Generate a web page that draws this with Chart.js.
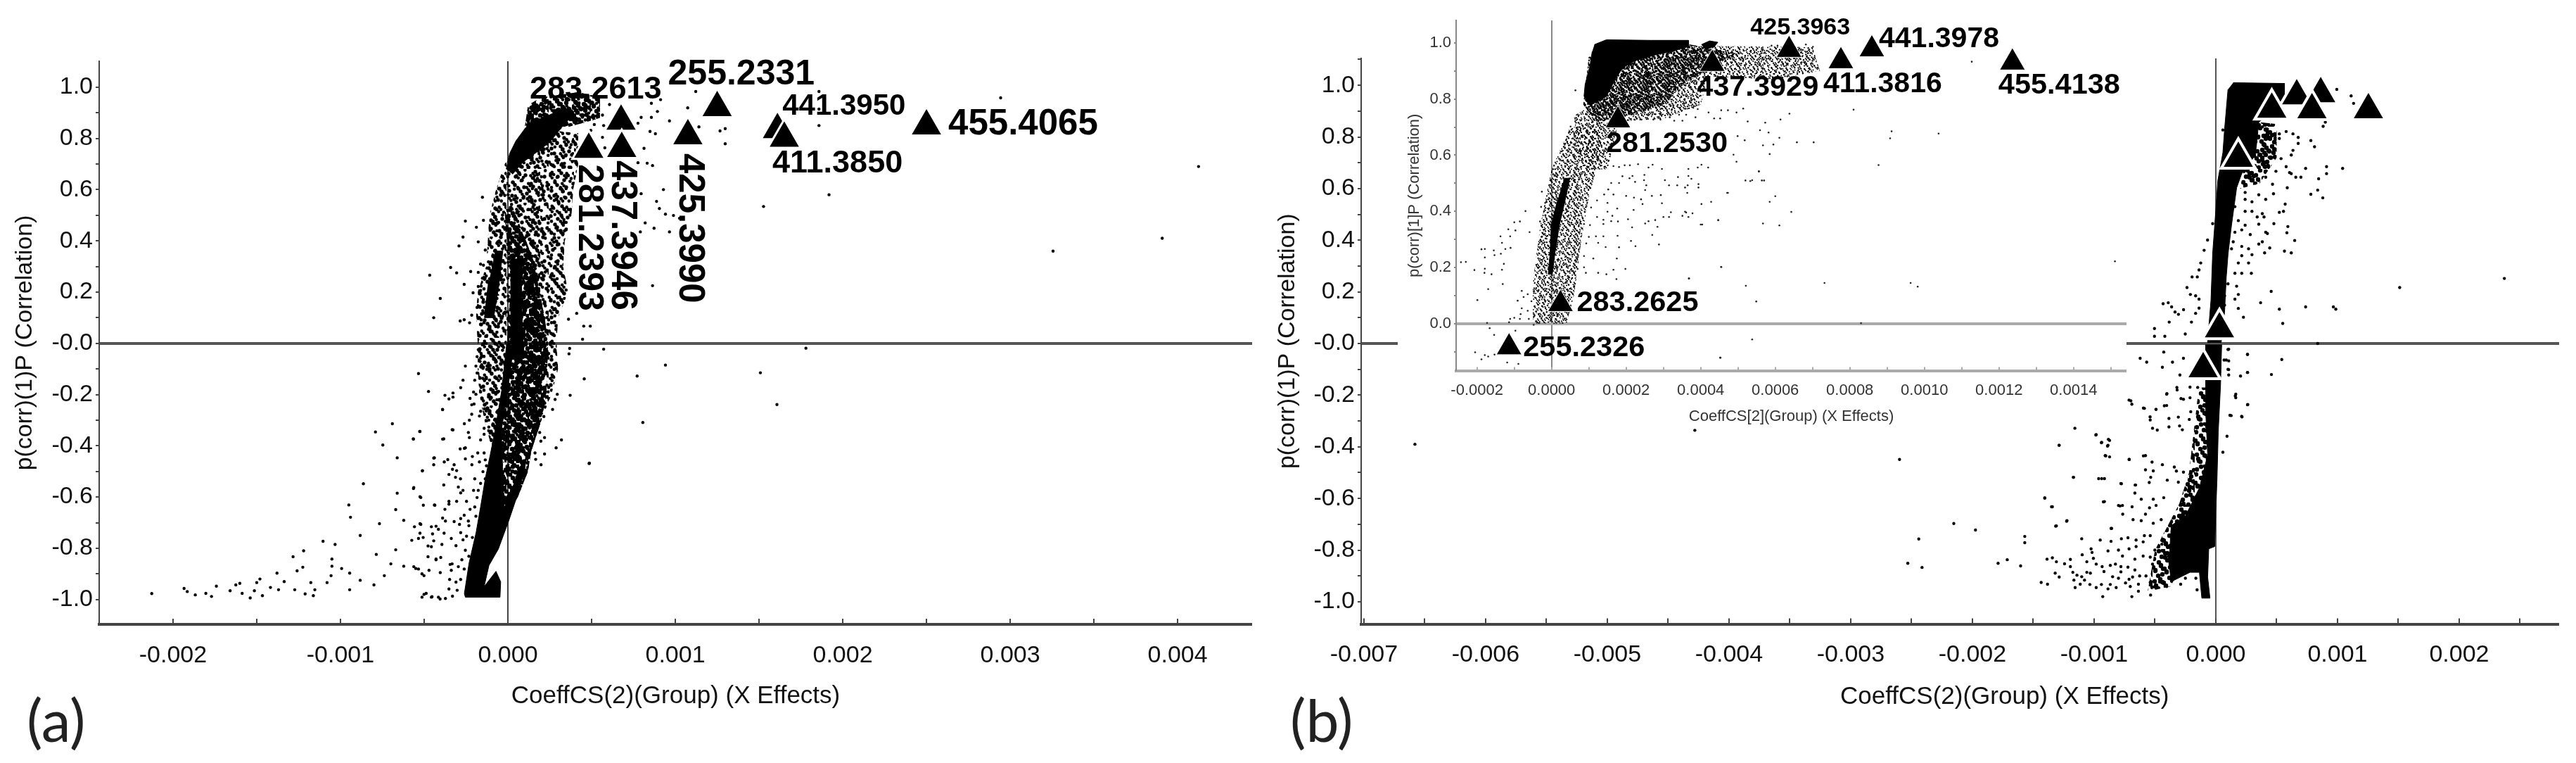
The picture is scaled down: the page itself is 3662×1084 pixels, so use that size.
<!DOCTYPE html>
<html>
<head>
<meta charset="utf-8">
<title>S-plots</title>
<script src="https://cdn.jsdelivr.net/npm/chart.js@4"></script>
<style>
  html, body { margin: 0; background: #fff; }
  body { position: relative; width: 3662px; height: 1084px; overflow: hidden; font-family: "Liberation Sans", Arial, sans-serif; }
  canvas { position: absolute; display: block; }
  .note { position: absolute; color: #111; white-space: nowrap; }
  .panel { font-family: Lato, sans-serif; font-size: 84px; line-height: 84px; color: #222; }
</style>
</head>
<body>
<canvas id="chart-a" width="1800" height="1084" style="left:0;top:0"></canvas>
<canvas id="chart-b" width="1862" height="1084" style="left:1800px;top:0"></canvas>
<canvas id="chart-inset" width="1036" height="605" style="left:1987px;top:0;background:#fff"></canvas>
<div class="note panel" style="left:38px;top:980px">(a)</div>
<div class="note panel" style="left:1834px;top:980px">(b)</div>
<div class="note" style="left:2616px;top:968px;font-size:35px;line-height:40px">CoeffCS(2)(Group) (X Effects)</div>
<script>
// All x values below are in units of 0.001 (the axis labels carry the real numbers)
const MILLI = 0.001;

// ── Panel (a) ─────────────────────────────────────────
const aXTicks = [-2,-1.5,-1,-0.5,0,0.5,1,1.5,2,2.5,3,3.5,4];
const aXTickLabels = ['-0.002','','-0.001','','0.000','','0.001','','0.002','','0.003','','0.004'];
const mainYTicks = [-1,-0.9,-0.8,-0.7,-0.6,-0.5,-0.4,-0.3,-0.2,-0.1,0,0.1,0.2,0.3,0.4,0.5,0.6,0.7,0.8,0.9,1];
const mainYTickLabels = ['-1.0','','-0.8','','-0.6','','-0.4','','-0.2','','-0.0','','0.2','','0.4','','0.6','','0.8','','1.0'];

const aPeakNames = ['255.2331','425.3990','441.3950','411.3850','455.4065','283.2613','437.3946','281.2393'];
const aPeaks = [[1.25,0.92],[1.075,0.81],[1.61,0.834],[1.651,0.8],[2.5,0.848],[0.676,0.867],[0.68,0.76],[0.483,0.757]];

// solid black parts of the cloud, outlined off the picture
const aSolidUpper = [[-0.01,0.68],[0.01,0.74],[0.048,0.79],[0.104,0.84],[0.16,0.867],[0.244,0.89],[0.342,0.92],[0.394,0.895],[0.33,0.85],[0.25,0.785],[0.17,0.745],[0.086,0.705],[0.028,0.66]];
const aSolidLeftBand = [[-0.075,0.36],[-0.03,0.36],[-0.055,0.22],[-0.085,0.1],[-0.14,0.1],[-0.12,0.22]];
const aSolidCentre = [[0.015,0.33],[0.08,0.3],[0.085,0.1],[0.095,-0.06],[0.025,-0.06],[0.015,0.1]];
const aSolidLower = [[-0.008,-0.006],[-0.036,-0.18],[-0.078,-0.345],[-0.106,-0.437],[-0.135,-0.528],[-0.163,-0.638],[-0.19,-0.739],[-0.232,-0.858],[-0.26,-0.977],[-0.254,-0.991],[-0.047,-0.991],[-0.043,-0.931],[-0.071,-0.89],[-0.142,-0.95],[-0.113,-0.867],[-0.057,-0.803],[0.005,-0.693],[0.062,-0.583],[0.09,-0.519],[0.115,-0.44],[0.06,-0.5],[0.01,-0.6],[-0.022,-0.64],[-0.03,-0.528],[-0.035,-0.418],[-0.04,-0.345],[0.0,-0.18],[0.034,-0.006]];
// speckled parts of the cloud
const aSparseFan = [[-0.02,0.7],[0.13,0.79],[0.27,0.83],[0.42,0.82],[0.42,0.7],[0.39,0.6],[0.38,0.5],[0.34,0.4],[0.33,0.3],[0.36,0.2],[0.3,0.1],[0.29,0],[0.3,-0.1],[0.26,-0.2],[0.2,-0.3],[0.15,-0.4],[0.1,-0.5],[-0.08,-0.45],[-0.14,-0.3],[-0.17,-0.2],[-0.18,-0.1],[-0.18,0],[-0.19,0.1],[-0.18,0.2],[-0.13,0.3],[-0.12,0.4],[-0.11,0.5],[-0.07,0.6]];
const aDenseFan = [[-0.02,0.52],[0.03,0.53],[0.15,0.33],[0.22,0.1],[0.24,0],[0.23,-0.2],[0.2,-0.3],[0.14,-0.42],[0.12,-0.5],[0.06,-0.6],[-0.03,-0.7],[-0.06,-0.3],[-0.01,-0.1],[0,0.1],[0.03,0.25],[0,0.35]];
const aTopCluster = [[0.1,0.84],[0.12,0.93],[0.2,0.96],[0.42,0.98],[0.55,0.96],[0.55,0.88],[0.45,0.86],[0.33,0.84],[0.2,0.8]];

const aDots = [
  [-0.152,0.57],[-0.254,0.477],[-0.146,0.48],[-0.188,0.453],[-0.268,0.415],[-0.292,0.38],[-0.177,0.396],[-0.342,0.296],[-0.306,0.275],[-0.222,0.28],[-0.177,0.277],[-0.467,0.266],[-0.261,0.23],[-0.404,0.175],[-0.208,0.197],[-0.443,0.1],[-0.285,0.087],[-0.261,0.092],[-0.184,0.14],[-0.216,0.11],[-0.229,0.08],[-0.135,0.364],[-0.163,0.309],[-0.146,0.305],[-0.152,0.254],[-0.177,0.222],
  [0.362,0.094],[0.453,0.067],[0.492,0.067],[0.446,0.016],[0.411,0.117],
  [0.565,0.891],[0.572,0.85],[0.607,0.932],[0.53,0.937],[0.495,0.831],[0.565,0.804],[0.579,0.763],[0.516,0.854],[0.509,0.891],
  [1.122,0.983],[1.074,0.919],[1.141,0.845],[1.267,0.829],[1.298,0.838],[1.298,0.779],[1.858,0.983],[1.858,0.914],[1.858,0.85],[2.943,0.958],[4.125,0.69],[1.918,0.58],[1.527,0.534],[3.908,0.41],[3.256,0.36],[1.78,-0.019],[0.941,-0.085],[1.508,-0.115],[0.772,-0.128],
  [0.965,0.868],[0.857,0.882],[0.893,0.905],[0.912,0.951],[0.857,0.937],[0.796,0.882],[0.777,0.859],[0.849,0.827],[0.881,0.818],[0.813,0.761],[0.777,0.705],[0.832,0.703],[0.864,0.694],[0.929,0.6],[0.796,0.584],[0.888,0.554],[0.905,0.526],[0.941,0.504],[0.989,0.499],[1.025,0.488],[0.82,0.47],[0.873,0.449],[0.965,0.435],[0.791,0.435],[0.864,0.225],
  [1.607,-0.239],[0.806,-0.309],[0.487,-0.468],[0.572,-0.023],[0.369,-0.02],[0.365,-0.041],[0.456,-0.139],[0.372,-0.203],[0.295,-0.199],[0.282,-0.219],[0.267,-0.258],[0.215,-0.286],[0.32,-0.377],[0.288,-0.408],[0.219,-0.432],[0.198,-0.474],[0.485,-0.469],[0.219,-0.368],[0.197,-0.382],[0.19,-0.348],[0.166,-0.453],[0.162,-0.428],
  [-0.534,-0.118],[-0.474,-0.188],[-0.376,-0.203],[-0.328,-0.194],[-0.328,-0.21],[-0.39,-0.258],[-0.268,-0.144],[-0.282,-0.173],[-0.254,-0.089],[-0.527,-0.344],[-0.565,-0.373],[-0.383,-0.373],[-0.328,-0.338],[-0.236,-0.348],[-0.23,-0.368],[-0.285,-0.412],[-0.254,-0.408],[-0.443,-0.448],[-0.443,-0.474],[-0.38,-0.463],[-0.359,-0.454],[-0.321,-0.474],[-0.51,-0.497],[-0.331,-0.492],[-0.306,-0.497],[-0.352,-0.512],[-0.313,-0.523],[-0.283,-0.529],[-0.562,-0.563],[-0.383,-0.553],[-0.52,-0.602],[-0.505,-0.632],[-0.436,-0.632],[-0.352,-0.628],[-0.376,-0.648],[-0.306,-0.617],[-0.247,-0.617],[-0.261,-0.671],[-0.39,-0.682],[-0.373,-0.694],[-0.321,-0.696],[-0.289,-0.707],[-0.282,-0.684],[-0.236,-0.694],
  [-0.177,-0.025],[-0.152,-0.006],[-0.184,-0.052],[-0.166,-0.071],[-0.191,-0.089],[-0.149,-0.098],[-0.184,-0.116],[-0.198,-0.144],[-0.205,-0.19],[-0.191,-0.199],[-0.226,-0.215],[-0.216,-0.24],[-0.202,-0.237],[-0.216,-0.277],[-0.23,-0.3],[-0.163,-0.265],[-0.17,-0.284],[-0.142,-0.332],[-0.114,-0.327],[-0.142,-0.355],[-0.163,-0.377],[-0.114,-0.3],[-0.1,-0.281],[-0.18,-0.428],[-0.212,-0.442],[-0.254,-0.451],[-0.215,-0.474],[-0.17,-0.463],[-0.142,-0.428],[-0.135,-0.455],[-0.128,-0.478],[-0.149,-0.501],[-0.198,-0.529],[-0.163,-0.547],[-0.135,-0.529],[-0.205,-0.574],[-0.177,-0.574],[-0.296,-0.561],[-0.268,-0.574],[-0.282,-0.584],[-0.184,-0.602],[-0.198,-0.639],[-0.226,-0.648],[-0.191,-0.675],[-0.233,-0.712],[-0.282,-0.739],[-0.247,-0.753],[-0.212,-0.758],[-0.268,-0.767],[-0.338,-0.762],[-0.31,-0.79],[-0.254,-0.808],[-0.233,-0.831],[-0.275,-0.845],[-0.296,-0.872],[-0.261,-0.881],[-0.345,-0.863],[-0.338,-0.886],[-0.348,-0.922],[-0.31,-0.932],[-0.282,-0.922],[-0.352,-0.959],[-0.303,-0.964],[-0.331,-0.987],[-0.373,-0.996],[-0.415,-0.991],[-0.457,-0.991],[-0.488,-0.976],[-0.513,-0.991],[-0.429,-0.845],[-0.394,-0.785],[-0.457,-0.794],[-0.401,-0.836],[-0.513,-0.9],[-0.534,-0.881],[-0.562,-0.872],[-0.471,-0.886],[-0.404,-0.895],[-0.558,-0.716],[-0.52,-0.707],[-0.457,-0.716],[-0.415,-0.726],[-0.45,-0.744],[-0.534,-0.762],[-0.506,-0.758],[-0.443,-0.771],
  [-2.127,-0.977],[-1.934,-0.957],[-1.915,-0.969],[-1.867,-0.982],[-1.804,-0.976],[-1.77,-0.988],[-1.741,-0.948],[-1.659,-0.966],[-1.625,-0.943],[-1.601,-0.937],[-1.587,-0.976],[-1.514,-0.966],[-1.5,-0.934],[-1.481,-0.92],[-1.539,-0.994],[-1.466,-0.985],[-1.418,-0.953],[-1.37,-0.962],[-1.336,-0.93],[-1.273,-0.962],[-1.379,-0.897],[-1.283,-0.833],[-1.22,-0.81],[-1.225,-0.874],[-1.259,-0.888],[-1.177,-0.934],[-1.211,-0.978],[-1.162,-0.985],[-1.104,-0.773],[-1.051,-0.842],[-1.051,-0.87],[-1.032,-0.785],[-0.993,-0.879],[-0.945,-0.962],[-0.94,-0.679],[-0.95,-0.631],[-0.863,-0.548],[-0.882,-0.75],[-0.767,-0.704],[-0.791,-0.346],[-0.747,-0.397],[-0.69,-0.314],[-0.661,-0.447],[-0.661,-0.585],[-0.67,-0.649],[-0.622,-0.691],[-0.564,-0.567],[-0.564,-0.374],[-0.525,-0.344],[-0.511,-0.498],[-0.525,-0.599],[-0.525,-0.704],[-0.439,-0.631],[-0.439,-0.447],[-0.39,-0.259],[-0.39,-0.374],[-0.352,-0.217],[-0.333,-0.337],[-0.352,-0.617],[-0.26,-0.41],[-0.26,-0.314],
  [-0.786,-0.824],[-0.738,-0.907],[-0.67,-0.806],[-0.622,-0.87],[-0.699,-0.861],[-0.55,-0.879],[-0.501,-0.907],[-0.945,-0.897],[-0.882,-0.925],[-0.8,-0.943],[-1.056,-0.907],[-1.08,-0.934],[-1.153,-0.962],[-0.525,-0.741],[-0.477,-0.791],[-0.574,-0.769],[-0.429,-0.714],[-0.381,-0.741],[-0.501,-0.98],[-0.453,-0.989],[-0.405,-0.998],[-0.477,-0.833],[-0.429,-0.842],[-0.333,-0.861]
];

// ── Panel (b), main plot ──────────────────────────────
const bXTicks = [-7,-6.5,-6,-5.5,-5,-4.5,-4,-3.5,-3,-2.5,-2,-1.5,-1,-0.5,0,0.5,1,1.5,2,2.5];
const bXTickLabels = ['-0.007','','-0.006','','-0.005','','-0.004','','-0.003','','-0.002','','-0.001','','0.000','','0.001','','0.002',''];
const bYTicks = [...mainYTicks, 1.1];
const bYTickLabels = [...mainYTickLabels, ''];

const bPeaks = [[1.254,0.905],[0.862,0.967],[0.665,0.959],[0.79,0.905],[0.46,0.907],[0.185,0.717],[0.03,0.057],[-0.104,-0.098]];

const bSolidUpper = [[0.143,1.01],[0.564,1.007],[0.564,0.939],[0.353,0.857],[0.325,0.73],[0.213,0.658],[0.171,0.603],[0.129,0.458],[0.101,0.349],[0.086,0.258],[0.072,0.122],[0.044,0.004],[-0.068,0.004],[-0.04,0.167],[-0.026,0.349],[0.002,0.53],[0.016,0.63],[0.058,0.739],[0.072,0.83],[0.1,0.984]];
const bSolidLower = [[-0.087,-0.005],[0.048,-0.005],[0.039,-0.16],[0.02,-0.342],[0.01,-0.523],[0,-0.65],[-0.009,-0.786],[-0.058,-0.795],[-0.067,-0.904],[-0.048,-0.986],[-0.115,-0.986],[-0.135,-0.886],[-0.212,-0.886],[-0.366,-0.922],[-0.385,-0.85],[-0.366,-0.705],[-0.25,-0.668],[-0.135,-0.559],[-0.067,-0.432],[-0.086,-0.232]];
const bSparseUpper = [[0.3,0.86],[0.5,0.85],[0.5,0.72],[0.36,0.62],[0.2,0.6]];
const bSparseLower = [[-0.14,-0.17],[-0.07,-0.17],[-0.07,-0.65],[-0.37,-0.94],[-0.56,-0.96],[-0.5,-0.8],[-0.3,-0.62],[-0.22,-0.5]];

const bDots = [
  [-0.428,-0.033],[-0.622,-0.057],[-0.568,-0.072],[-0.439,-0.092],[-0.356,-0.072],[-0.266,-0.057],[-0.295,-0.122],[0.26,-0.042],[0.106,-0.022],[0.26,-0.112],[0.203,-0.126],[0.106,-0.122],[0.106,-0.101],[0.068,-0.064],[0.106,-0.067],[0.164,-0.196],[0.164,-0.21],[0.26,-0.237],[0.116,-0.278],[0.212,-0.282],[-0.404,-0.196],[-0.318,-0.18],[-0.266,-0.216],[-0.212,-0.169],[-0.212,-0.21],[-0.713,-0.219],[-0.69,-0.235],[-0.587,-0.251],[-0.404,-0.24],[-0.491,-0.255],[-0.206,-0.264],[-0.539,-0.296],[-0.385,-0.29],[-0.308,-0.285],[-0.218,-0.294],[-0.385,-0.323],[-0.52,-0.328],[-0.481,-0.335],[-0.298,-0.319],[-0.275,-0.334],[-0.983,-0.353],[-0.94,-0.384],[-0.873,-0.375],[-0.886,-0.394],[-1.287,-0.394],[-0.909,-0.434],[-0.873,-0.439],[-0.713,-0.449],[-0.578,-0.434],[-0.524,-0.459],[-0.439,-0.469],[-0.578,-0.489],[-0.514,-0.493],[-0.341,-0.478],[-0.324,-0.494],[-0.266,-0.498],[-1.169,-0.518],[-0.963,-0.523],[-0.915,-0.523],[-0.776,-0.543],[-0.659,-0.548],[-0.535,-0.518],[-0.547,-0.538],[-0.399,-0.529],[-0.308,-0.537],[-1.406,-0.598],[-0.665,-0.579],[-0.613,-0.603],[-0.514,-0.603],[-0.428,-0.597],[-0.915,-0.612],[-0.8,-0.627],[-0.767,-0.627],[-0.688,-0.632],[-0.491,-0.627],[-0.545,-0.636],[-1.343,-0.632],[-0.765,-0.661],[-0.578,-0.661],[-1.223,-0.686],[-1.31,-0.706],[-0.861,-0.716],[-0.68,-0.682],[-0.613,-0.686],[-0.514,-0.696],[-0.449,-0.682],
  [-1.102,-0.756],[-0.95,-0.761],[-0.861,-0.766],[-0.776,-0.756],[-0.722,-0.752],[-0.655,-0.761],[-0.587,-0.744],[-0.539,-0.744],[-0.597,-0.768],[-0.655,-0.786],[-0.713,-0.795],[-1.025,-0.795],[-1.017,-0.809],[-1.098,-0.818],[-0.886,-0.803],[-0.8,-0.8],[-0.767,-0.823],[-0.501,-0.8],[-0.443,-0.777],[-1.387,-0.835],[-1.343,-0.83],[-1.31,-0.845],[-1.243,-0.853],[-1.195,-0.836],[-1.195,-0.864],[-1.06,-0.845],[-1.006,-0.832],[-0.983,-0.854],[-0.934,-0.864],[-0.867,-0.859],[-0.825,-0.854],[-0.78,-0.864],[-0.722,-0.866],[-0.665,-0.835],[-0.597,-0.823],[-0.539,-0.827],[-0.52,-0.854],[-0.462,-0.85],[-1.32,-0.889],[-1.287,-0.904],[-1.175,-0.886],[-1.141,-0.897],[-1.102,-0.903],[-1.06,-0.886],[-1.031,-0.889],[-1.079,-0.916],[-0.919,-0.883],[-0.848,-0.903],[-0.8,-0.909],[-0.78,-0.884],[-0.665,-0.877],[-0.684,-0.904],[-0.713,-0.913],[-0.626,-0.9],[-0.574,-0.9],[-1.166,-0.916],[-1.114,-0.932],[-1.035,-0.933],[-0.983,-0.945],[-0.94,-0.933],[-0.867,-0.933],[-0.819,-0.945],[-0.886,-0.95],[-0.742,-0.927],[-0.703,-0.941],[-0.636,-0.932],[-0.539,-0.925],[-0.462,-0.923],[-0.404,-0.941],[-1.435,-0.925],[-1.383,-0.932],[-1.156,-0.945],[-0.929,-0.98],[-0.69,-0.98],[-0.536,-0.974],[-0.636,-0.959],[-0.514,-0.943],[-0.154,-0.954],[-0.115,-0.932],[-0.164,-0.909],[-0.289,-0.932],[-0.25,-0.909],
  [-6.581,-0.39],[-4.281,-0.336],[-2.599,-0.449],[-1.158,-0.328],[-0.986,-0.354],[-0.883,-0.371],[-0.938,-0.383],[-0.89,-0.397],[-1.288,-0.394],[-0.904,-0.435],[-0.711,-0.449],[-0.595,-0.435],[-1.171,-0.518],[-0.938,-0.523],[-0.78,-0.542],[-0.663,-0.548],[-1.405,-0.598],[-1.35,-0.632],[-0.924,-0.613],[-0.787,-0.629],[-1.226,-0.688],[-1.316,-0.707],[-0.856,-0.716],[-2.153,-0.697],[-1.975,-0.722],[-1.57,-0.747],[-1.57,-0.771],[-2.441,-0.757],[-2.531,-0.851],[-2.414,-0.867],[-1.789,-0.851],[-1.714,-0.837],[-1.604,-0.861],[-0.698,-0.222],[-0.595,-0.25],[-0.492,-0.255],[-0.54,-0.284],[-0.423,-0.241],[-0.32,-0.17],[-0.402,-0.194],[-0.149,-0.17],[-0.286,-0.213],[0.16,-0.203],[0.263,-0.236],[0.126,-0.279],[0.215,-0.284],[0.092,-0.359],[0.058,-0.421],
  [1.112,0.959],[1.132,0.93],[0.994,0.984],[0.882,0.841],[0.9,0.857],[0.781,0.786],[0.811,0.762],[1.042,0.678],[0.91,0.685],[0.91,0.658],[0.738,0.678],[0.845,0.638],[0.699,0.644],[0.62,0.658],[0.657,0.644],[0.837,0.594],[0.781,0.578],[0.879,0.564],[0.57,0.54],[0.556,0.512],[0.522,0.508],[0.587,0.603],[0.466,0.617],[0.474,0.58],[0.592,0.453],[0.584,0.429],[0.477,0.464],[0.648,0.399],[0.564,0.358],[0.62,0.351],[0.443,0.37],[0.401,0.351],[0.424,0.426],[0.292,0.272],[0.455,0.202],[0.368,0.158],[0.522,0.133],[0.738,0.142],[0.966,0.142],[0.986,0.133],[0.55,0.078],[0.227,0.102],[1.511,0.217],[2.371,0.252],
  [0.837,0],[0.261,-0.042],[0.542,-0.062],[0.457,-0.12],[0.261,-0.112],[0.1,-0.1],[0.086,-0.064],[0.1,-0.023],
  [-0.433,0.154],[-0.391,0.158],[-0.363,0.142],[-0.335,0.122],[-0.307,0.113],[-0.265,0.131],[-0.166,0.117],[-0.138,0.137],[-0.383,0.083],[-0.2,0.083],[-0.504,0.058],[-0.504,0.028],[-0.419,0.028],[-0.251,0.037],[-0.237,0.217],[-0.195,0.258],[-0.152,0.258],[-0.124,0.312],[-0.138,0.285],[-0.096,0.361],[-0.068,0.401],[-0.026,0.464],[0.058,0.827],[-0.166,0.185],[-0.209,0.19],[-0.138,0.172],
  [0.382,0.839],[0.424,0.83],[0.353,0.803],[0.466,0.81],[0.522,0.812],[0.578,0.821],[0.634,0.812],[0.677,0.798],[0.677,0.775],[0.634,0.748],[0.522,0.794],[0.41,0.757],[0.353,0.73],[0.438,0.721],[0.536,0.716],[0.62,0.73],[0.396,0.685],[0.269,0.649],[0.353,0.631],[0.41,0.644],[0.494,0.667],[0.578,0.685],[0.606,0.662],[0.325,0.621],[0.241,0.585],[0.353,0.576],[0.41,0.558],[0.241,0.558],[0.297,0.549],[0.382,0.503],[0.34,0.49],[0.396,0.49],[0.297,0.512],[0.241,0.512],[0.157,0.53],[0.185,0.476],[0.241,0.458],[0.353,0.462],[0.213,0.44],[0.283,0.422],[0.41,0.431],[0.157,0.431],[0.143,0.394],[0.213,0.376],[0.269,0.367],[0.353,0.385],[0.382,0.394],[0.297,0.344],[0.213,0.34],[0.129,0.367],[0.185,0.312],[0.269,0.312],[0.157,0.272],[0.213,0.272],[0.1,0.231],[0.171,0.222],[0.072,0.185],[0.185,0.19],[0.157,0.172],[0.185,0.136],[0.072,0.149]
];

// ── Panel (b), inset ──────────────────────────────────
const insetXTicks = [-0.2,-0.1,0,0.1,0.2,0.3,0.4,0.5,0.6,0.7,0.8,0.9,1,1.1,1.2,1.3,1.4,1.5];
const insetXTickLabels = ['-0.0002','','0.0000','','0.0002','','0.0004','','0.0006','','0.0008','','0.0010','','0.0012','','0.0014',''];
const insetYTicks = [-0.1,0,0.1,0.2,0.3,0.4,0.5,0.6,0.7,0.8,0.9,1];
const insetYTickLabels = ['','0.0','','0.2','','0.4','','0.6','','0.8','','1.0'];

const insetPeakNames = ['425.3963','441.3978','411.3816','455.4138','437.3929','281.2530','283.2625','255.2326'];
const insetPeaks = [[0.637,0.975],[0.859,0.977],[0.776,0.935],[1.236,0.93],[0.431,0.925],[0.178,0.724],[0.024,0.07],[-0.114,-0.084]];

const insetSolidTop = [[0.115,0.994],[0.147,1.011],[0.266,1.009],[0.367,1.009],[0.367,0.987],[0.329,0.973],[0.279,0.957],[0.222,0.936],[0.191,0.911],[0.172,0.873],[0.147,0.81],[0.103,0.777],[0.087,0.81],[0.09,0.852],[0.103,0.919],[0.109,0.969]];
const insetSolidBlob = [[0.402,0.994],[0.424,1.007],[0.446,1.002],[0.436,0.986],[0.411,0.977]];
const insetSolidStem = [[0.034,0.518],[0.049,0.518],[0.034,0.426],[0.021,0.351],[0.009,0.251],[0.002,0.176],[-0.009,0.176],[-0.004,0.251],[-0.001,0.351],[0.015,0.435]];
const insetFanDense = [[0.085,0.78],[0.1,0.95],[0.37,0.995],[0.5,0.96],[0.42,0.9],[0.36,0.86],[0.3,0.78],[0.2,0.74],[0.12,0.72]];
const insetFan = [[0.06,0.74],[0.37,0.99],[0.7,0.985],[0.72,0.9],[0.6,0.87],[0.42,0.88],[0.4,0.78],[0.3,0.73],[0.18,0.72],[0.15,0.55],[0.08,0.55]];
const insetStemHalo = [[-0.05,0],[0.04,0],[0.06,0.1],[0.08,0.3],[0.1,0.45],[0.13,0.6],[0.13,0.7],[0.05,0.7],[0,0.55],[-0.03,0.35],[-0.05,0.15]];

const insetDots = [
  [-0.026,0.47],[-0.017,0.43],[-0.028,0.416],[-0.07,0.401],[-0.085,0.364],[-0.1,0.361],[-0.116,0.336],[-0.097,0.332],[-0.059,0.326],[-0.031,0.364],[-0.137,0.311],[-0.111,0.311],[-0.133,0.288],[-0.026,0.309],[-0.188,0.265],[-0.179,0.266],[-0.155,0.261],[-0.124,0.266],[-0.11,0.27],[-0.136,0.249],[-0.153,0.244],[-0.179,0.236],[-0.23,0.22],[-0.243,0.219],[-0.128,0.213],[-0.207,0.191],[-0.179,0.196],[-0.133,0.192],[-0.18,0.181],[-0.161,0.176],[-0.131,0.141],[-0.17,0.123],[-0.199,0.084],[-0.08,0.117],[-0.075,0.095],[-0.064,0.105],[-0.091,0.082],[-0.054,0.08],[-0.064,0.046],[-0.08,0.055],[-0.083,0.034],[-0.111,0.017],[-0.1,0.021],[-0.114,0.005],[-0.085,0.017],[-0.061,0.017],[-0.048,-0.004],[-0.173,0.003],[-0.166,-0.016],[-0.154,-0.04],[-0.097,-0.025],[-0.205,-0.102],[-0.188,-0.127],[-0.179,-0.112],[-0.17,-0.117],[-0.153,-0.11],[-0.119,-0.138],[-0.089,-0.143],[0.453,-0.121],
  [0.455,0.202],[0.368,0.161],[0.198,0.195],[0.166,0.192],[0.174,0.159],[0.147,0.176],[0.125,0.181],[0.092,0.181],[0.087,0.201],[0.07,0.195],[0.175,0.232],[0.112,0.232],[0.087,0.241],[0.071,0.238],[0.145,0.273],[0.181,0.272],[0.225,0.276],[0.288,0.282],[0.213,0.295],[0.177,0.313],[0.139,0.311],[0.119,0.311],[0.125,0.288],[0.27,0.316],[0.284,0.345],[0.216,0.343],[0.178,0.364],[0.16,0.365],[0.139,0.355],[0.139,0.37],[0.122,0.38],[0.163,0.384],[0.205,0.372],[0.251,0.357],[0.26,0.365],[0.278,0.369],[0.3,0.38],[0.315,0.38],[0.32,0.397],[0.351,0.384],[0.358,0.399],[0.367,0.38],[0.378,0.393],[0.404,0.353],[0.447,0.369],[0.402,0.426],[0.428,0.434],[0.473,0.466],[0.364,0.466],[0.365,0.493],[0.358,0.485],[0.337,0.493],[0.315,0.493],[0.304,0.511],[0.339,0.522],[0.367,0.526],[0.375,0.516],[0.394,0.497],[0.394,0.485],[0.392,0.556],[0.402,0.566],[0.42,0.556],[0.367,0.551],[0.296,0.551],[0.271,0.566],[0.26,0.556],[0.232,0.568],[0.21,0.564],[0.196,0.564],[0.181,0.558],[0.166,0.561],[0.254,0.493],[0.251,0.476],[0.248,0.511],[0.249,0.53],[0.224,0.505],[0.209,0.518],[0.217,0.526],[0.19,0.525],[0.181,0.501],[0.16,0.501],[0.152,0.478],[0.141,0.46],[0.166,0.46],[0.2,0.455],[0.221,0.449],[0.24,0.443],[0.244,0.426],[0.269,0.455],[0.293,0.458],[0.296,0.429],[0.22,0.405],[0.176,0.41],[0.15,0.399],[0.15,0.43],[0.122,0.439],[0.106,0.414],[0.075,0.326],[0.103,0.351],[0.087,0.355],[0.1,0.309],[0.093,0.286],
  [0.064,0.831],[0.051,0.702],[0.455,0.76],[0.473,0.76],[0.496,0.752],[0.514,0.766],[0.421,0.752],[0.436,0.731],[0.452,0.731],[0.526,0.72],[0.573,0.716],[0.614,0.727],[0.638,0.748],[0.559,0.689],[0.582,0.681],[0.499,0.668],[0.518,0.653],[0.567,0.635],[0.595,0.638],[0.611,0.662],[0.658,0.646],[0.703,0.646],[0.585,0.604],[0.488,0.602],[0.496,0.577],[0.556,0.543],[0.52,0.51],[0.538,0.511],[0.57,0.51],
  [0.487,0.94],[0.521,0.923],[0.546,0.923],[0.581,0.944],[0.606,0.919],[0.631,0.923],[0.653,0.923],[0.682,0.923],[0.59,0.99],[0.606,0.99],[0.682,0.994],[0.701,0.986],[0.669,0.977],
  [1.127,0.933],[0.81,0.762],[0.912,0.685],[0.908,0.66],[1.038,0.677],[0.877,0.565],[1.511,0.222],[0.963,0.145],[0.982,0.132],[0.732,0.145],[0.538,-0.056],[0.452,-0.121],[0.83,0.002],[0.455,0.202],[0.369,0.161],[0.521,0.135],[0.549,0.079],[0.643,0.398],[0.611,0.35],[0.567,0.357],[0.585,0.434],[0.6,0.454],[0.447,0.368],[0.361,0.396],[0.4,0.353],[0.471,0.466],[0.564,0.51],[0.533,0.508],[0.556,0.542],
  [0.38,0.769],[0.392,0.764],[0.361,0.744],[0.386,0.735],[0.342,0.744],[0.317,0.735],[0.329,0.723],[0.351,0.723],[0.292,0.727],[0.273,0.727],[0.241,0.727],[0.222,0.727],[0.26,0.744],[0.292,0.764],[0.323,0.764],[0.345,0.769],[0.222,0.752]
];

// ── Peak label placement, relative to each triangle: [dx, dy, font px, rotated] ──
const aLabelLayout = [[-70,-47,50,0],[2,25,51,1],[7,-33,42,0],[-17,36,45,0],[31,-2,51,0],[-130,-45,45,0],[0,17,51,1],[0,21,50,1]];
const insetLabelLayout = [[-55,-31,34,0],[10,-14,41,0],[-25,33,41,0],[-20,33,41.5,0],[-22,34,41.5,0],[-17,34,41.5,0],[23,-1,41.5,0],[20,1.5,41.5,0]];

// ── Speckle tiles for the areas too dense to read dot by dot ──
const speckleA = [[3,7],[15,2],[27,9],[41,4],[54,11],[9,19],[22,16],[35,21],[47,17],[58,24],[4,31],[17,28],[29,35],[42,30],[52,37],[11,43],[24,41],[36,47],[48,44],[57,50],[6,55],[19,53],[31,58],[44,56],[13,11],[38,13],[25,26],[50,28],[8,38],[33,40]];
const speckleB = [[9,3],[21,6],[33,2],[47,8],[2,14],[18,12],[30,15],[43,12],[55,17],[12,24],[26,21],[39,26],[53,22],[1,26],[20,33],[36,33],[46,35],[58,33],[14,36],[28,45],[41,40],[54,43],[3,46],[16,48],[43,50],[5,52],[25,56],[37,53],[51,57],[59,8]];

// every other spot gets a neighbour, the cloud clumps like that
function makeSpeckle(spots, scale, radius) {
  const size = Math.round(60 * scale);
  const tile = document.createElement('canvas');
  tile.width = tile.height = size;
  const g = tile.getContext('2d');
  g.fillStyle = '#000';
  spots.forEach(([x, y], i) => {
    g.beginPath();
    g.arc(x * scale, y * scale, radius, 0, Math.PI * 2);
    if (i % 2) g.arc((x + 3) * scale, (y + 4) * scale, radius, 0, Math.PI * 2);
    g.fill();
  });
  return g.createPattern(tile, 'repeat');
}

const toPoint = ([x, y]) => ({ x: x * MILLI, y });

function dotSet(points, radius, color) {
  return { data: points.map(toPoint), pointStyle: 'circle', pointRadius: radius, pointBackgroundColor: color, pointBorderWidth: 0, order: 3 };
}
function region(points, fillStyle, edge) {
  return { data: points.map(toPoint), showLine: true, fill: 'shape', tension: 0, pointRadius: 0, backgroundColor: fillStyle, borderColor: edge ? '#000' : 'transparent', borderWidth: edge ? 1 : 0, order: 4 };
}
function peakSet(points, radius, edge) {
  return { data: points.map(toPoint), pointStyle: 'triangle', pointRadius: radius, pointBackgroundColor: '#000', pointBorderColor: '#fff', pointBorderWidth: edge, order: 1 };
}

// Draws the m/z labels next to their triangles
const peakLabels = {
  id: 'peakLabels',
  afterDatasetsDraw(chart, args, opts) {
    if (!opts.names) return;
    const ctx = chart.ctx;
    ctx.save();
    ctx.fillStyle = '#000';
    ctx.textAlign = 'left';
    ctx.textBaseline = 'middle';
    opts.names.forEach((name, i) => {
      const px = chart.scales.x.getPixelForValue(opts.points[i][0] * MILLI);
      const py = chart.scales.y.getPixelForValue(opts.points[i][1]);
      const [dx, dy, size, rotated] = opts.layout[i];
      ctx.font = `bold ${size}px "Liberation Sans", Arial, sans-serif`;
      ctx.save();
      ctx.translate(px + dx, py + dy);
      if (rotated) ctx.rotate(Math.PI / 2);
      ctx.fillText(name, 0, 0);
      ctx.restore();
    });
    ctx.restore();
  },
};

// Fix the scale box and drop the label overflow padding, so the plot area lands where asked
function pinBox(scale, side, size) {
  scale[side] = size;
  scale.paddingLeft = scale.paddingRight = scale.paddingTop = scale.paddingBottom = 0;
}

// Shared scatter setup; box holds the plot area placement inside the canvas
function drawScatter(id, datasets, box, axes, labels) {
  const isZero = v => Math.abs(v) < 1e-9;
  const textFont = { size: box.font, family: '"Liberation Sans", Arial, sans-serif' };
  new Chart(document.getElementById(id), {
    type: 'scatter',
    data: { datasets },
    plugins: [peakLabels],
    options: {
      responsive: false,
      animation: false,
      events: [],
      // big triangles would otherwise widen the side margins
      layout: { autoPadding: false, padding: { left: 0, top: box.top, right: box.right, bottom: box.bottom } },
      plugins: { legend: { display: false }, tooltip: { enabled: false }, peakLabels: labels || {} },
      scales: {
        x: {
          type: 'linear',
          min: axes.xMin * MILLI,
          max: axes.xMax * MILLI,
          afterBuildTicks: s => { s.ticks = axes.xTicks.map(v => ({ value: v * MILLI })); },
          afterFit: s => pinBox(s, 'height', box.xBox),
          ticks: { autoSkip: false, maxRotation: 0, color: box.text, font: textFont, padding: box.xPad, callback: (v, i) => axes.xLabels[i] },
          border: { color: box.axisX, width: box.axisXWidth },
          grid: {
            drawTicks: true,
            tickLength: box.xTick,
            tickColor: box.axisX,
            tickWidth: 2,
            color: c => (c.tick && isZero(c.tick.value) ? box.zeroV : 'transparent'),
            lineWidth: c => (c.tick && isZero(c.tick.value) ? 2 : 0),
          },
          title: box.xTitle ? { display: true, text: box.xTitle, color: box.text, font: { ...textFont, size: box.xTitleFont }, padding: { top: 0, bottom: box.xTitlePad } } : { display: false },
        },
        y: {
          type: 'linear',
          min: axes.yMin,
          max: axes.yMax,
          afterBuildTicks: s => { s.ticks = axes.yTicks.map(v => ({ value: v })); },
          afterFit: s => pinBox(s, 'width', box.yBox),
          ticks: { autoSkip: false, color: box.text, font: textFont, padding: box.yPad, callback: (v, i) => axes.yLabels[i] },
          border: { color: box.axisY, width: 2 },
          grid: {
            drawTicks: true,
            tickLength: box.yTick,
            tickColor: box.axisY,
            tickWidth: 2,
            color: c => (c.tick && isZero(c.tick.value) ? box.zeroH : 'transparent'),
            lineWidth: c => (c.tick && isZero(c.tick.value) ? box.zeroHWidth : 0),
          },
          title: { display: true, text: box.yTitle, color: box.text, font: textFont, padding: { top: box.yTitlePad, bottom: 0 } },
        },
      },
    },
  });
}

const sparse = makeSpeckle(speckleA, 1, 2.7);
const sparse2 = makeSpeckle(speckleB, 0.8, 2.3);
const dense = makeSpeckle([...speckleA, ...speckleB], 1, 3.2);
const dense2 = makeSpeckle(speckleB, 0.78, 3);
const insetSparse = makeSpeckle(speckleA, 0.55, 1.2);
const insetSparse2 = makeSpeckle(speckleB, 0.43, 1);
const insetDense = makeSpeckle([...speckleA, ...speckleB], 0.55, 1.5);
const insetDense2 = makeSpeckle(speckleA, 0.43, 1.3);

// ── Panel (a) ─────────────────────────────────────────
drawScatter('chart-a', [
  peakSet(aPeaks, 27, 3),
  dotSet(aDots, 2.2, '#000'),
  region(aSolidUpper, '#000', true),
  region(aSolidLeftBand, '#000', true),
  region(aSolidCentre, '#000', true),
  region(aSolidLower, '#000', true),
  region(aDenseFan, dense, false),
  region(aDenseFan, dense2, false),
  region(aSparseFan, sparse, false),
  region(aSparseFan, sparse2, false),
  region(aTopCluster, dense, false),
  region(aTopCluster, sparse2, false),
], {
  font: 34, text: '#111', top: 87, right: 20, bottom: 74, xBox: 123, yBox: 141,
  xPad: 32, yPad: 4, xTick: -8, yTick: 5, xTitle: 'CoeffCS(2)(Group) (X Effects)', xTitleFont: 35, xTitlePad: 0,
  yTitle: 'p(corr)(1)P (Correlation)', yTitlePad: 15,
  axisX: '#444', axisXWidth: 4, axisY: '#444', zeroV: '#444', zeroH: '#555', zeroHWidth: 4,
}, {
  xMin: -2.441, xMax: 4.445, xTicks: aXTicks, xLabels: aXTickLabels,
  yMin: -1.097, yMax: 1.101, yTicks: mainYTicks, yLabels: mainYTickLabels,
}, { names: aPeakNames, points: aPeaks, layout: aLabelLayout });

// ── Panel (b), main plot ──────────────────────────────
drawScatter('chart-b', [
  peakSet(bPeaks, 28, 4),
  dotSet(bDots, 2.2, '#000'),
  region(bSolidUpper, '#000', true),
  region(bSolidLower, '#000', true),
  region(bSparseUpper, dense, false),
  region(bSparseLower, dense, false),
], {
  font: 34, text: '#111', top: 83, right: 24, bottom: 74, xBox: 123.5, yBox: 135,
  xPad: 32, yPad: 4, xTick: -8, yTick: 5, xTitle: null,
  yTitle: 'p(corr)(1)P (Correlation)', yTitlePad: 10,
  axisX: '#444', axisXWidth: 4, axisY: '#444', zeroV: '#555', zeroH: '#555', zeroHWidth: 4,
}, {
  xMin: -7.023, xMax: 2.821, xTicks: bXTicks, xLabels: bXTickLabels,
  yMin: -1.086, yMax: 1.104, yTicks: bYTicks, yLabels: bYTickLabels,
});

// ── Panel (b), inset over the main plot ───────────────
drawScatter('chart-inset', [
  peakSet(insetPeaks, 21, 1),
  dotSet(insetDots, 1.3, '#222'),
  region(insetSolidTop, '#000', true),
  region(insetSolidBlob, '#000', true),
  region(insetSolidStem, '#000', true),
  region(insetFanDense, insetDense, false),
  region(insetFanDense, insetDense2, false),
  region(insetFan, insetSparse, false),
  region(insetFan, insetSparse2, false),
  region(insetStemHalo, insetSparse, false),
  region(insetStemHalo, insetSparse2, false),
], {
  font: 22, text: '#333', top: 29, right: 0, bottom: 0, xBox: 78.5, yBox: 83,
  xPad: 20, yPad: 4, xTick: -5, yTick: 3, xTitle: 'CoeffCS[2](Group) (X Effects)', xTitleFont: 22, xTitlePad: 0,
  yTitle: 'p(corr)[1]P (Correlation)', yTitlePad: 11,
  axisX: '#aaa', axisXWidth: 4, axisY: '#888', zeroV: '#888', zeroH: '#aaa', zeroHWidth: 4,
}, {
  xMin: -0.256, xMax: 1.542, xTicks: insetXTicks, xLabels: insetXTickLabels,
  yMin: -0.167, yMax: 1.08, yTicks: insetYTicks, yLabels: insetYTickLabels,
}, { names: insetPeakNames, points: insetPeaks, layout: insetLabelLayout });
</script>
</body>
</html>
